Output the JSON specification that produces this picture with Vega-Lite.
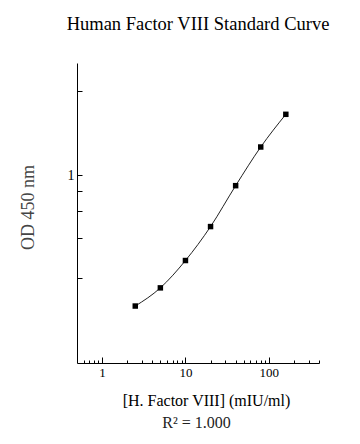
{
  "$schema": "https://vega.github.io/schema/vega-lite/v6.json",
  "width": 242,
  "height": 300,
  "autosize": {"type": "none"},
  "padding": {"left": 77, "top": 63, "right": 41, "bottom": 81},
  "background": "#ffffff",
  "title": {
    "text": "Human Factor VIII Standard Curve",
    "font": "Liberation Serif",
    "fontSize": 18.5,
    "fontWeight": "normal",
    "color": "#000000",
    "anchor": "middle",
    "baseline": "alphabetic",
    "offset": 15
  },
  "config": {
    "view": {"stroke": null},
    "axis": {
      "grid": false,
      "domainColor": "#000000",
      "domainWidth": 1,
      "tickColor": "#000000",
      "tickWidth": 1,
      "labelFont": "Liberation Serif",
      "labelFontSize": 13,
      "labelColor": "#000000",
      "titleFont": "Liberation Serif",
      "titleFontWeight": "normal",
      "titleColor": "#000000"
    }
  },
  "data": {
    "values": [
      {"conc": 2.5, "od": 0.340},
      {"conc": 5, "od": 0.395},
      {"conc": 10, "od": 0.495},
      {"conc": 20, "od": 0.655},
      {"conc": 40, "od": 0.918},
      {"conc": 80, "od": 1.263},
      {"conc": 160, "od": 1.654}
    ]
  },
  "encoding": {
    "y": {
      "field": "od",
      "type": "quantitative",
      "scale": {"type": "log", "domain": [0.2125, 2.526], "nice": false, "zero": false},
      "axis": {
        "orient": "left",
        "values": [0.427, 0.594, 0.743, 0.876, 1, 2],
        "labelExpr": "datum.value == 1 ? '1' : ''",
        "labelOverlap": false,
        "labelFlush": false,
        "tickSize": -5,
        "labelPadding": 8,
        "labelFontSize": 14,
        "title": "OD 450 nm",
        "titleFontSize": 18,
        "titleColor": "#444444",
        "titleAngle": 270,
        "titleX": -44,
        "titleY": 144,
        "titleAlign": "center",
        "titleBaseline": "alphabetic"
      }
    }
  },
  "layer": [
    {
      "mark": {"type": "line", "interpolate": "monotone", "color": "#222222", "strokeWidth": 1},
      "encoding": {
        "x": {
          "field": "conc",
          "type": "quantitative",
          "scale": {"type": "log", "domain": [0.5, 400], "nice": false, "zero": false},
          "axis": {
            "orient": "bottom",
            "values": [0.6, 0.7, 0.8, 0.9, 1, 2, 3, 4, 5, 6, 7, 8, 9, 10, 20, 30, 40, 50, 60, 70, 80, 90, 100, 200, 300, 400],
            "labelExpr": "datum.value == 1 ? '1' : datum.value == 10 ? '10' : datum.value == 100 ? '100' : ''",
            "labelOverlap": false,
            "labelFlush": false,
            "tickSize": {"condition": {"test": "datum.value == 1 || datum.value == 10 || datum.value == 100", "value": -6}, "value": -3},
            "labelPadding": 9,
            "title": "[H. Factor VIII] (mIU/ml)",
            "titleFontSize": 16,
            "titleX": 129,
            "titleY": 42,
            "titleAlign": "center",
            "titleBaseline": "alphabetic"
          }
        }
      }
    },
    {
      "mark": {"type": "point", "shape": "square", "filled": true, "size": 30, "color": "#000000", "opacity": 1},
      "encoding": {
        "x": {
          "field": "conc",
          "type": "quantitative",
          "scale": {"type": "log", "domain": [0.5, 400], "nice": false, "zero": false},
          "axis": {
            "orient": "bottom",
            "labels": false,
            "ticks": false,
            "domain": false,
            "grid": false,
            "title": "R² = 1.000",
            "titleFontSize": 16,
            "titleColor": "#222222",
            "titleX": 119,
            "titleY": 64,
            "titleAlign": "center",
            "titleBaseline": "alphabetic"
          }
        }
      }
    }
  ],
  "resolve": {"axis": {"x": "independent"}}
}
